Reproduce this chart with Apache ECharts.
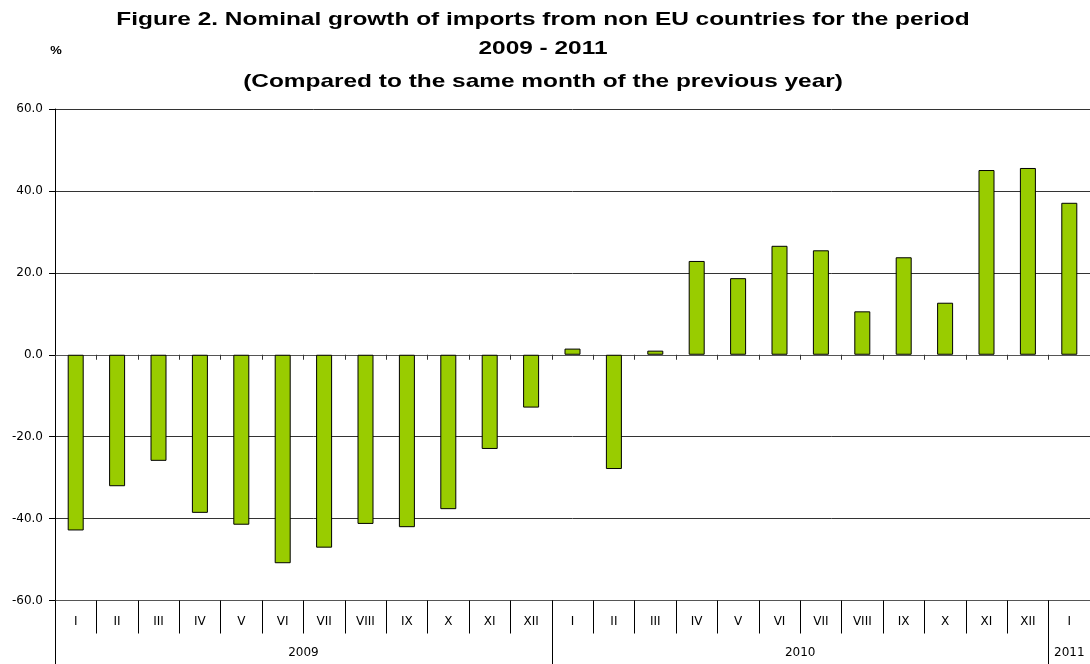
<!DOCTYPE html>
<html>
<head>
<meta charset="utf-8">
<script src="https://cdn.jsdelivr.net/npm/echarts@6/dist/echarts.min.js"></script>
<style>
html,body{margin:0;padding:0;background:#fff;}
#c{width:1090px;height:664px;}
</style>
</head>
<body>
<div id="c"></div>
<script>
var months = ["I","II","III","IV","V","VI","VII","VIII","IX","X","XI","XII",
              "I","II","III","IV","V","VI","VII","VIII","IX","X","XI","XII","I"];
var values = [-42.9,-32.1,-25.9,-38.6,-41.5,-50.9,-47.1,-41.3,-42.1,-37.7,-23.0,-12.9,
              1.5,-27.9,1.0,22.9,18.7,26.6,25.5,10.6,23.8,12.7,45.1,45.6,37.1];
var years = ["2009","2010","2011"];
var yearCenters = [6, 18, 24.5];
var yearBounds = [0, 12, 24];
var titleLines = ["Figure 2. Nominal growth of imports from non EU countries for the period",
                  "2009 - 2011",
                  "(Compared to the same month of the previous year)"];

var FONT = "'Liberation Sans', Arial, sans-serif";
var AXFONT = "'DejaVu Sans', sans-serif";
var titleY = [20, 49, 82];
var graphics = titleLines.map(function(t, i){
  return {type:'text', x:543, y:titleY[i], scaleX:1.32, scaleY:1,
    style:{text:t, textAlign:'center', textVerticalAlign:'middle',
      font:"bold 18.5px "+FONT, fill:'#000'}};
});
graphics.push({type:'text', x:56, y:51, scaleX:1.3, style:{text:'%', textAlign:'center',
  textVerticalAlign:'middle', font:"bold 10px "+FONT, fill:'#000'}});

var chart = echarts.init(document.getElementById('c'), null, {renderer:'canvas'});
chart.setOption({
  animation:false,
  backgroundColor:'#fff',
  textStyle:{fontFamily:AXFONT},
  graphic:graphics,
  grid:{left:55, right:0, top:109, bottom:63.5, containLabel:false},
  xAxis:[
    {type:'category', data:months, position:'bottom',
     axisLine:{onZero:true, lineStyle:{color:'#555', width:1}},
     axisTick:{show:true, length:5, interval:0, lineStyle:{color:'#333'}},
     axisLabel:{show:false}, splitLine:{show:false}},
    {type:'category', data:months, position:'bottom',
     axisLine:{onZero:false, lineStyle:{color:'#555', width:1}},
     axisTick:{show:true, length:33, interval:0, lineStyle:{color:'#000'}},
     axisLabel:{show:true, interval:0, margin:15, fontSize:12, color:'#000', fontFamily:AXFONT},
     splitLine:{show:false}},
    {type:'value', min:0, max:25, position:'bottom',
     axisLine:{show:false, onZero:false},
     axisTick:{show:true, length:64, customValues:yearBounds, lineStyle:{color:'#000'}},
     axisLabel:{show:true, margin:46, fontSize:12, color:'#000', fontFamily:AXFONT,
       customValues:yearCenters,
       formatter:function(v){ var i=yearCenters.indexOf(v); return i>=0?years[i]:''; }},
     splitLine:{show:false}}
  ],
  yAxis:{type:'value', min:-60, max:60, interval:20,
    axisLine:{show:true, lineStyle:{color:'#000'}},
    axisTick:{show:true, length:6, lineStyle:{color:'#000'}},
    axisLabel:{margin:12, fontSize:12, color:'#000', fontFamily:AXFONT,
      formatter:function(v){return v.toFixed(1);}},
    splitLine:{show:true, lineStyle:{color:'#333', width:1}}},
  series:[{type:'bar', xAxisIndex:0, data:values, barWidth:16,
    itemStyle:{color:'#99CC00', borderColor:'#000', borderWidth:1}}]
});
</script>
</body>
</html>
